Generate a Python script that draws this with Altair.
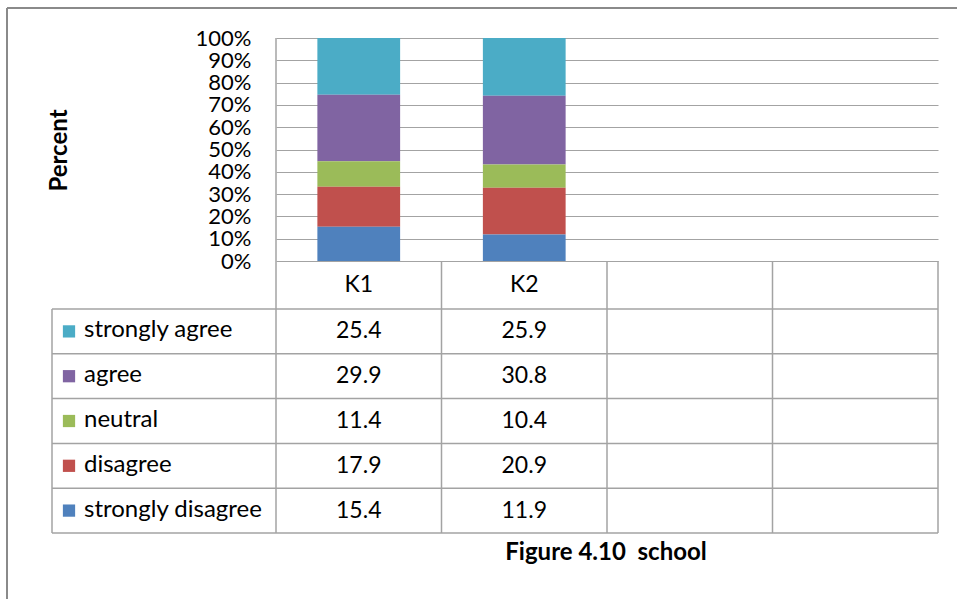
import altair as alt
import pandas as pd

# ---- data -------------------------------------------------------------
schools = ["K1", "K2"]
responses = ["strongly agree", "agree", "neutral", "disagree", "strongly disagree"]
k1_values = [25.4, 29.9, 11.4, 17.9, 15.4]
k2_values = [25.9, 30.8, 10.4, 20.9, 11.9]
colors = ["#4BACC6", "#8064A2", "#9BBB59", "#C0504D", "#4F81BD"]

# ---- layout (pixels) --------------------------------------------------
W, H = 957, 599
PLOT_LEFT, PLOT_TOP, PLOT_W, PLOT_H = 276, 38, 662, 223
N_COLS = 4                       # two schools plus two empty columns
COL_W = PLOT_W / N_COLS
TABLE_LEFT = 52
HEADER_BOTTOM = 309
ROW_H = 44.8
FONT = "Lato"
GRID = "#a3a3a3"


def ux(px):
    """pixel column -> x data units (one unit per table column)"""
    return (px - PLOT_LEFT) / COL_W


def uy(py):
    """pixel row -> y data units (0 = 0%, 1 = 100%)"""
    return (PLOT_TOP + PLOT_H - py) / PLOT_H


xs = alt.Scale(domain=[0, N_COLS], nice=False, zero=False)
ys = alt.Scale(domain=[0, 1], nice=False, zero=False)

# the same percent axis is declared in every layer so the layers share it
y_axis = alt.Axis(
    values=[i / 10 for i in range(11)],
    format=".0%",
    grid=True,
    gridColor=GRID,
    gridWidth=1.2,
    domain=False,
    ticks=False,
    labelOverlap=False,
    labelPadding=25,
    labelFont=FONT,
    labelFontSize=22,
    labelColor="#000000",
    title="Percent",
    titleFont=FONT,
    titleFontSize=24,
    titleFontWeight="bold",
    titleColor="#000000",
    titleAngle=270,
    titleX=59 - PLOT_LEFT,
    titleY=150 - PLOT_TOP,
    titleAlign="center",
    titleBaseline="middle",
)


def X(field):
    return alt.X(field, type="quantitative", scale=xs, axis=None)


def Y(field):
    return alt.Y(field, type="quantitative", scale=ys, axis=y_axis)


# ---- long table for the stacked bars and table cells -----------------
rows = []
for ci, (school, vals) in enumerate(zip(schools, [k1_values, k2_values])):
    for ri, (resp, v) in enumerate(zip(responses, vals)):
        rows.append({
            "school": school,
            "response": resp,
            "value": v,
            "label": f"{v:.1f}",
            "stack_rank": len(responses) - 1 - ri,   # strongly disagree at bottom
            "x0": ci + 0.25,
            "x1": ci + 0.75,
            "xc": ci + 0.5,
            "yc": uy(HEADER_BOTTOM + (ri + 0.5) * ROW_H),
        })
df = pd.DataFrame(rows)

color_scale = alt.Scale(domain=responses, range=colors)

bars = alt.Chart(df).transform_stack(
    stack="value",
    groupby=["school"],
    sort=[alt.SortField("stack_rank", order="ascending")],
    offset="normalize",
    as_=["y0", "y1"],
).mark_bar().encode(
    x=X("x0"),
    x2="x1:Q",
    y=Y("y0"),
    y2="y1:Q",
    color=alt.Color("response:N", scale=color_scale, legend=None),
)

# ---- table grid lines -------------------------------------------------
table_bottom = HEADER_BOTTOM + len(responses) * ROW_H
hlines = pd.DataFrame([
    {"x": ux(TABLE_LEFT), "x2": ux(PLOT_LEFT + PLOT_W), "y": uy(HEADER_BOTTOM + i * ROW_H)}
    for i in range(len(responses) + 1)
])
vlines = pd.DataFrame(
    [{"x": c, "y": uy(table_bottom), "y2": 0.0} for c in range(N_COLS + 1)]
    + [{"x": ux(TABLE_LEFT), "y": uy(table_bottom), "y2": uy(HEADER_BOTTOM)},
       {"x": 0.0, "y": 0.0, "y2": 1.0}]
)

h_rules = alt.Chart(hlines).mark_rule(color=GRID, strokeWidth=1.5).encode(
    x=X("x"), x2="x2:Q", y=Y("y"),
)
v_rules = alt.Chart(vlines).mark_rule(color=GRID, strokeWidth=1.5).encode(
    x=X("x"), y=Y("y"), y2="y2:Q",
)

# ---- header row: school names ----------------------------------------
header = pd.DataFrame({
    "school": schools,
    "xc": [i + 0.5 for i in range(len(schools))],
    "yc": [uy((PLOT_TOP + PLOT_H + HEADER_BOTTOM) / 2)] * len(schools),
})
header_text = alt.Chart(header).mark_text(
    font=FONT, fontSize=23, color="#000000", align="center", baseline="middle"
).encode(x=X("xc"), y=Y("yc"), text="school:N")

# ---- row labels with colour keys --------------------------------------
legend_rows = pd.DataFrame({
    "response": responses,
    "kx": [ux(69)] * len(responses),
    "tx": [ux(84)] * len(responses),
    "yc": [uy(HEADER_BOTTOM + (i + 0.5) * ROW_H) for i in range(len(responses))],
})
keys = alt.Chart(legend_rows).mark_square(size=150, opacity=1).encode(
    x=X("kx"),
    y=Y("yc"),
    color=alt.Color("response:N", scale=color_scale, legend=None),
)
row_labels = alt.Chart(legend_rows).mark_text(
    font=FONT, fontSize=24, color="#000000", align="left", baseline="middle", dy=-1
).encode(x=X("tx"), y=Y("yc"), text="response:N")

# ---- cell values ------------------------------------------------------
cells = alt.Chart(df).mark_text(
    font=FONT, fontSize=23, color="#000000", align="center", baseline="middle"
).encode(x=X("xc"), y=Y("yc"), text="label:N")

# ---- caption and chart-area frame ------------------------------------
caption = alt.Chart(pd.DataFrame({"t": ["Figure 4.10\u00a0 school"]})).mark_text(
    font=FONT, fontSize=24, fontWeight="bold", color="#000000",
    align="center", baseline="middle",
).encode(
    x=alt.value(606 - PLOT_LEFT),
    y=alt.value(553 - PLOT_TOP),
    text="t:N",
)

frame_top = alt.Chart(pd.DataFrame({"k": [0]})).mark_rule(
    color="#8a8a8a", strokeWidth=2
).encode(
    x=alt.value(7 - PLOT_LEFT), x2=alt.value(W - PLOT_LEFT), y=alt.value(8 - PLOT_TOP)
)
frame_left = alt.Chart(pd.DataFrame({"k": [0]})).mark_rule(
    color="#8a8a8a", strokeWidth=2
).encode(
    x=alt.value(7 - PLOT_LEFT), y=alt.value(8 - PLOT_TOP), y2=alt.value(H - PLOT_TOP)
)

chart = alt.layer(
    bars, h_rules, v_rules, header_text, keys, row_labels, cells, caption,
    frame_top, frame_left,
).properties(
    width=PLOT_W,
    height=PLOT_H,
    autosize=alt.AutoSizeParams(type="none"),
    padding={"left": PLOT_LEFT, "top": PLOT_TOP,
             "right": W - PLOT_LEFT - PLOT_W, "bottom": H - PLOT_TOP - PLOT_H},
    background="#ffffff",
).configure_view(stroke=None)

chart.save("out.html", embed_options={"renderer": "svg", "actions": False})
